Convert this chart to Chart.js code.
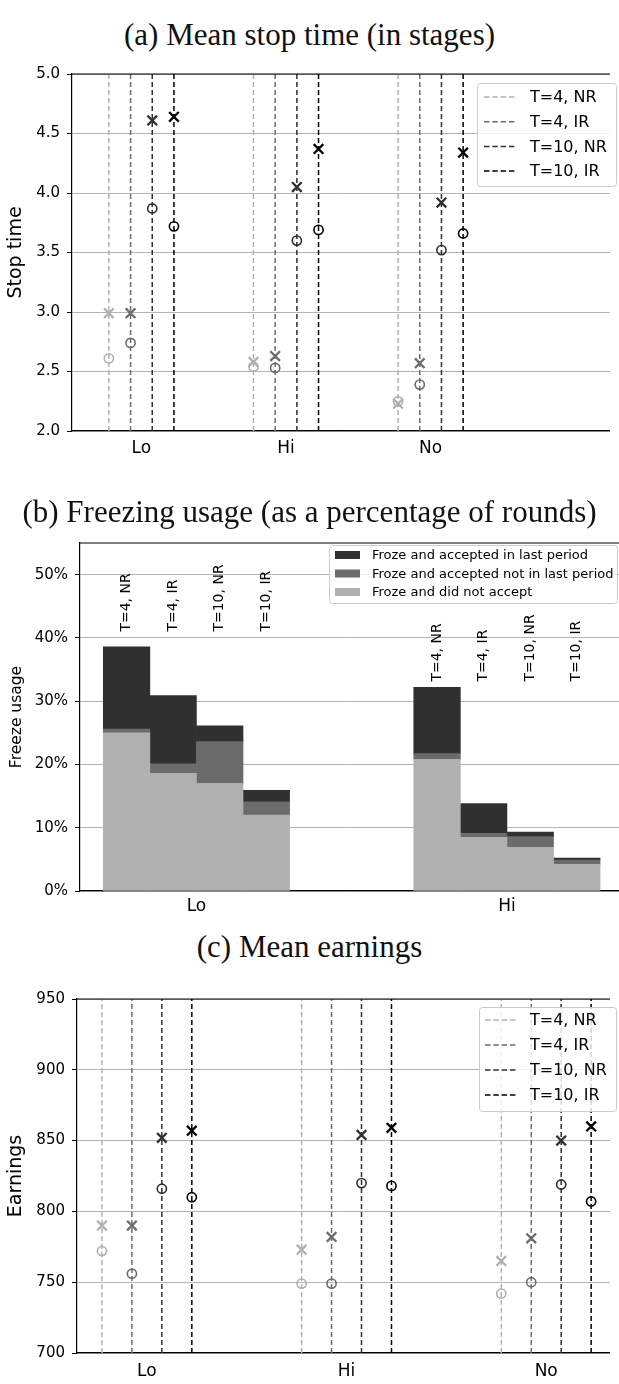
<!DOCTYPE html>
<html lang="en">
<head>
  <meta charset="UTF-8" />
  <title>Stop time, freezing usage and earnings</title>
  <script src="https://cdn.jsdelivr.net/npm/chart.js"></script>
  <style>
    body { margin: 0; background: #fff; width: 619px; height: 1384px; position: relative; overflow: hidden; }
    .title { position: absolute; left: 0; width: 619px; text-align: center; z-index: 2;
             font-family: "Liberation Serif", serif; font-size: 31px; line-height: 36px; color: #111; }
    .panel { position: absolute; left: 0; width: 619px; }
  </style>
</head>
<body>

  <!-- (a) -->
  <div class="title" style="top:17px">(a) Mean stop time (in stages)</div>
  <div class="panel" style="top:56px;height:414px"><canvas id="stopChart"></canvas></div>

  <!-- (b) -->
  <div class="title" style="top:494px">(b) Freezing usage (as a percentage of rounds)</div>
  <div class="panel" style="top:527px;height:398px"><canvas id="freezeChart"></canvas></div>

  <!-- (c) -->
  <div class="title" style="top:929px">(c) Mean earnings</div>
  <div class="panel" style="top:975px;height:409px"><canvas id="earnChart"></canvas></div>

<script>
  // categorias y condiciones
  const groups = ['Lo', 'Hi', 'No'];
  const freezeGroups = ['Lo', 'Hi'];
  const conditions = ['T=4, NR', 'T=4, IR', 'T=10, NR', 'T=10, IR'];
  const condOffsets = [-0.225, -0.075, 0.075, 0.225];
  const condColors = ['#b0b0b0', '#6c6c6c', '#303030', '#000000'];

  // (a) tiempo de parada: una fila por condicion, columnas Lo / Hi / No
  const stopCross = [
    [2.99, 2.58, 2.23],
    [2.99, 2.63, 2.57],
    [4.61, 4.05, 3.92],
    [4.64, 4.37, 4.34]
  ];
  const stopCircle = [
    [2.61, 2.54, 2.25],
    [2.74, 2.53, 2.39],
    [3.87, 3.60, 3.52],
    [3.72, 3.69, 3.66]
  ];

  // (b) uso de congelamiento (%), una fila por grupo Lo / Hi, columnas por condicion
  const frozeNotAccepted = [
    [25.0, 18.6, 17.0, 12.0],
    [20.8, 8.5, 6.9, 4.2]
  ];
  const frozeAcceptedEarlier = [
    [0.6, 1.5, 6.6, 2.1],
    [0.9, 0.6, 1.7, 0.7]
  ];
  const frozeAcceptedLast = [
    [13.0, 10.8, 2.5, 1.8],
    [10.5, 4.7, 0.7, 0.3]
  ];
  const freezeLabelBase = [41, 33.1]; // donde empiezan los textos verticales (en %)

  // (c) ganancias
  const earnCross = [
    [790, 773, 765],
    [790, 782, 781],
    [852, 854, 850],
    [857, 859, 860]
  ];
  const earnCircle = [
    [772, 749, 742],
    [756, 749, 750],
    [816, 820, 819],
    [810, 818, 807]
  ];

  Chart.defaults.font.family = '"DejaVu Sans", sans-serif';
  Chart.defaults.color = '#000';

  function boxPath(ctx, x, y, w, h, r) {
    ctx.beginPath();
    ctx.moveTo(x + r, y);
    ctx.lineTo(x + w - r, y);
    ctx.arcTo(x + w, y, x + w, y + r, r);
    ctx.lineTo(x + w, y + h - r);
    ctx.arcTo(x + w, y + h, x + w - r, y + h, r);
    ctx.lineTo(x + r, y + h);
    ctx.arcTo(x, y + h, x, y + h - r, r);
    ctx.lineTo(x, y + r);
    ctx.arcTo(x, y, x + r, y, r);
    ctx.closePath();
  }

  // leyenda dentro del area del grafico
  function makeLegend(cfg) {
    return {
      id: 'boxLegend',
      afterDraw(chart) {
        const ctx = chart.ctx;
        ctx.save();
        boxPath(ctx, cfg.x + 0.5, cfg.y + 0.5, cfg.w, cfg.h, 3);
        ctx.fillStyle = 'rgba(255,255,255,0.82)';
        ctx.fill();
        ctx.strokeStyle = '#cccccc';
        ctx.lineWidth = 1;
        ctx.stroke();
        ctx.font = cfg.font;
        ctx.textBaseline = 'middle';
        ctx.textAlign = 'left';
        cfg.items.forEach((it, i) => {
          const cy = cfg.y + cfg.firstRow + i * cfg.rowGap;
          if (cfg.kind === 'line') {
            ctx.strokeStyle = it.color;
            ctx.lineWidth = 1.5;
            ctx.setLineDash([5.5, 2.8]);
            ctx.beginPath();
            ctx.moveTo(cfg.sampleX, cy);
            ctx.lineTo(cfg.sampleX + cfg.sampleW, cy);
            ctx.stroke();
            ctx.setLineDash([]);
          } else {
            ctx.fillStyle = it.color;
            ctx.fillRect(cfg.sampleX, cy - 4, cfg.sampleW, 8);
          }
          ctx.fillStyle = '#000';
          ctx.fillText(it.label, cfg.textX, cy + 1);
        });
        ctx.restore();
      }
    };
  }

  // borde superior del grafico
  const topSpine = {
    id: 'topSpine',
    afterDatasetsDraw(chart) {
      const { ctx, chartArea } = chart;
      ctx.save();
      ctx.strokeStyle = '#000';
      ctx.lineWidth = 1.2;
      ctx.beginPath();
      ctx.moveTo(chartArea.left, chartArea.top);
      ctx.lineTo(chartArea.right, chartArea.top);
      ctx.stroke();
      ctx.restore();
    }
  };

  function pointPanel(id, cross, circle, cfg) {
    const datasets = [];
    conditions.forEach((c, ci) => {
      const pts = [];
      groups.forEach((g, gi) => {
        const x = gi + condOffsets[ci];
        pts.push({ x, y: cfg.yMin }, { x, y: cfg.yMax }, { x, y: null });
      });
      datasets.push({
        label: c, data: pts, showLine: true, spanGaps: false,
        borderColor: condColors[ci], borderWidth: 1.5, borderDash: [5, 3],
        pointRadius: 0, order: 3
      });
    });
    conditions.forEach((c, ci) => {
      datasets.push({
        label: c + ' x',
        data: groups.map((g, gi) => ({ x: gi + condOffsets[ci], y: cross[ci][gi] })),
        pointStyle: 'crossRot', pointRadius: 6.8, pointBorderWidth: 2.3,
        pointBorderColor: condColors[ci], pointBackgroundColor: condColors[ci], order: 1
      });
      datasets.push({
        label: c + ' o',
        data: groups.map((g, gi) => ({ x: gi + condOffsets[ci], y: circle[ci][gi] })),
        pointStyle: 'circle', pointRadius: 4.6, pointBorderWidth: 1.6,
        pointBorderColor: condColors[ci], pointBackgroundColor: 'rgba(0,0,0,0)', order: 1
      });
    });

    return new Chart(document.getElementById(id), {
      type: 'scatter',
      data: { datasets },
      plugins: [topSpine, makeLegend(cfg.legend)],
      options: {
        responsive: true, maintainAspectRatio: false, animation: false, events: [],
        layout: { padding: { top: cfg.padTop, right: 0, left: 0, bottom: 0 } },
        plugins: { legend: { display: false }, tooltip: { enabled: false } },
        scales: {
          x: {
            type: 'linear', min: cfg.xMin, max: cfg.xMax, offset: false,
            afterBuildTicks: axis => { axis.ticks = groups.map((g, i) => ({ value: i })); },
            afterFit: axis => { axis.height = cfg.xAxisH; },
            ticks: { callback: v => groups[v], font: { size: 17 }, color: '#000', padding: cfg.xPad, maxRotation: 0 },
            grid: { display: false, drawTicks: false },
            border: { color: '#000', width: 1.2 }
          },
          y: {
            min: cfg.yMin, max: cfg.yMax,
            afterFit: axis => { axis.width = cfg.yAxisW; },
            ticks: { stepSize: cfg.step, callback: cfg.fmt, font: { size: 15 }, color: '#000', padding: 7 },
            grid: { color: '#b4b4b4', lineWidth: 1, tickLength: 5, tickColor: '#000' },
            border: { color: '#000', width: 1.2 },
            title: { display: true, text: cfg.yTitle, font: { size: 19 }, color: '#000', padding: { top: 5, bottom: 0 } }
          }
        }
      }
    });
  }

  pointPanel('stopChart', stopCross, stopCircle, {
    yMin: 2, yMax: 5, step: 0.5, fmt: v => v.toFixed(1), yTitle: 'Stop time',
    xMin: -0.48, xMax: 3.24, padTop: 18, xAxisH: 39, yAxisW: 72, xPad: 7,
    legend: {
      kind: 'line', x: 477, y: 27, w: 139, h: 103, firstRow: 14, rowGap: 24.7,
      sampleX: 484, sampleW: 33, textX: 530, font: '16px "DejaVu Sans"',
      items: conditions.map((c, i) => ({ label: c, color: condColors[i] }))
    }
  });

  pointPanel('earnChart', earnCross, earnCircle, {
    yMin: 700, yMax: 950, step: 50, fmt: v => String(v), yTitle: 'Earnings',
    xMin: -0.35, xMax: 2.319, padTop: 24, xAxisH: 31, yAxisW: 77, xPad: 8,
    legend: {
      kind: 'line', x: 479, y: 32, w: 137, h: 104, firstRow: 13, rowGap: 25,
      sampleX: 485, sampleW: 33, textX: 530, font: '16px "DejaVu Sans"',
      items: conditions.map((c, i) => ({ label: c, color: condColors[i] }))
    }
  });

  // (b) barras apiladas
  const stackParts = [
    { label: 'Froze and did not accept', values: frozeNotAccepted, color: '#b0b0b0' },
    { label: 'Froze and accepted not in last period', values: frozeAcceptedEarlier, color: '#6b6b6b' },
    { label: 'Froze and accepted in last period', values: frozeAcceptedLast, color: '#303030' }
  ];

  const barLabels = {
    id: 'barLabels',
    afterDatasetsDraw(chart) {
      const { ctx, scales: { x, y } } = chart;
      ctx.save();
      ctx.font = '14px "DejaVu Sans"';
      ctx.fillStyle = '#000';
      ctx.textAlign = 'left';
      ctx.textBaseline = 'middle';
      freezeGroups.forEach((g, gi) => {
        conditions.forEach((c, ci) => {
          ctx.save();
          ctx.translate(x.getPixelForValue(gi + condOffsets[ci]), y.getPixelForValue(freezeLabelBase[gi]));
          ctx.rotate(-Math.PI / 2);
          ctx.fillText(c, 0, 0);
          ctx.restore();
        });
      });
      ctx.restore();
    }
  };

  new Chart(document.getElementById('freezeChart'), {
    type: 'bar',
    data: {
      datasets: stackParts.map(p => ({
        label: p.label,
        data: freezeGroups.flatMap((g, gi) => conditions.map((c, ci) => ({ x: gi + condOffsets[ci], y: p.values[gi][ci] }))),
        backgroundColor: p.color, borderWidth: 0,
        categoryPercentage: 1, barPercentage: 1
      }))
    },
    plugins: [topSpine, barLabels, makeLegend({
      kind: 'box', x: 329, y: 18, w: 288, h: 58, firstRow: 10, rowGap: 18.5,
      sampleX: 335, sampleW: 25, textX: 372, font: '13px "DejaVu Sans"',
      items: stackParts.slice().reverse().map(p => ({ label: p.label, color: p.color }))
    })],
    options: {
      responsive: true, maintainAspectRatio: false, animation: false, events: [],
      layout: { padding: { top: 12, right: 0, left: 0, bottom: 0 } },
      plugins: { legend: { display: false }, tooltip: { enabled: false } },
      scales: {
        x: {
          type: 'linear', stacked: true, min: -0.375, max: 1.361, offset: false,
          afterBuildTicks: axis => { axis.ticks = freezeGroups.map((g, i) => ({ value: i })); },
          afterFit: axis => { axis.height = 34; },
          ticks: { callback: v => freezeGroups[v], font: { size: 17 }, color: '#000', padding: 5, maxRotation: 0 },
          grid: { display: false, drawTicks: false, offset: false },
          border: { color: '#000', width: 1.2 }
        },
        y: {
          stacked: true, min: 0, max: 55, z: 1,
          afterBuildTicks: axis => { axis.ticks = axis.ticks.filter(t => t.value % 10 === 0); },
          afterFit: axis => { axis.width = 80; },
          ticks: { stepSize: 10, callback: v => v + '%', font: { size: 15 }, color: '#000', padding: 7 },
          grid: { color: '#b4b4b4', lineWidth: 1, tickLength: 5, tickColor: '#000' },
          border: { color: '#000', width: 1.2 },
          title: { display: true, text: 'Freeze usage', font: { size: 15.5 }, color: '#000', padding: { top: 8, bottom: 0 } }
        }
      }
    }
  });
</script>
</body>
</html>
